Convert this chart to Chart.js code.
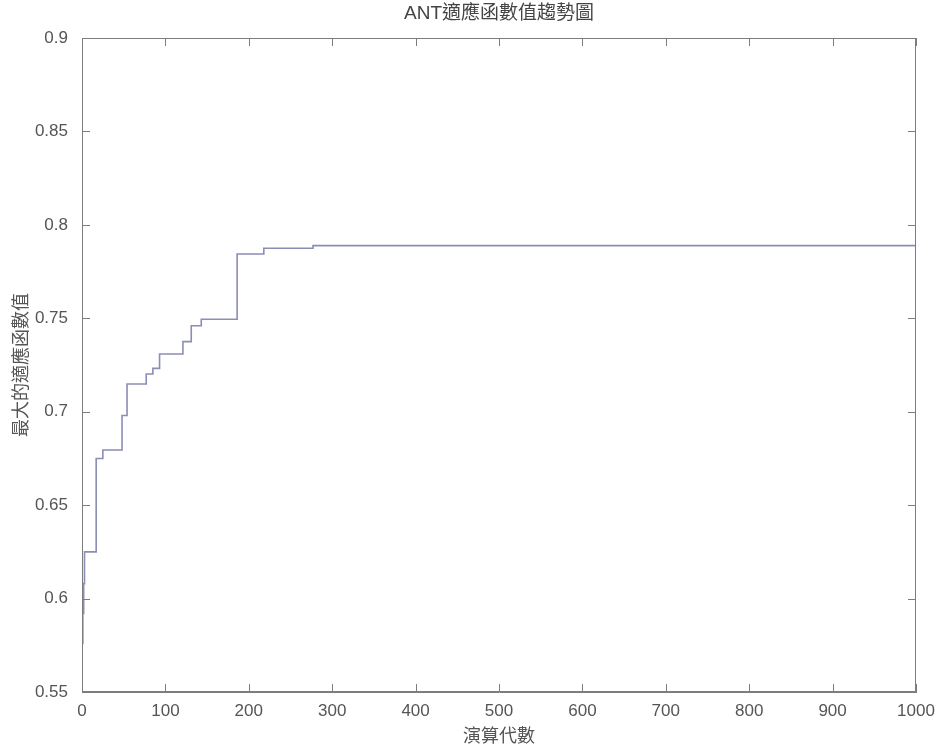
<!DOCTYPE html>
<html lang="zh-Hant">
<head>
  <meta charset="UTF-8">
  <title>ANT適應函數值趨勢圖</title>
  <style>
    html,body{margin:0;padding:0;background:#fff;}
    #wrap{width:941px;height:748px;}
  </style>
  <script src="https://cdn.jsdelivr.net/npm/chart.js"></script>
</head>
<body>
  <div id="wrap"><canvas id="fitChart" width="941" height="748"></canvas></div>

<script>
/* ===== Data ===== */
const generations=[0,1,2,3,17,25,48,54,77,85,93,121,131,143,186,218,277,1000];
const bestFitness=[0.576,0.592,0.608,0.625,0.675,0.6795,0.698,0.7148,0.7202,0.7232,0.7309,0.7375,0.746,0.7495,0.7844,0.7875,0.7889,0.7889];
const xTicks=[0,100,200,300,400,500,600,700,800,900,1000];
const yTicks=[0.55,0.6,0.65,0.7,0.75,0.8,0.85,0.9];

const FONT="'Liberation Sans','Noto Sans CJK TC',Arial,sans-serif";
const AXIS="#7d7d7d";

/* ===== box + inward ticks, like the original plot ===== */
const boxTicks={
  id:"boxTicks",
  afterDraw(chart){
    const {ctx,chartArea:a,scales:{x,y}}=chart;
    ctx.save();
    ctx.strokeStyle=AXIS;ctx.lineWidth=1;
    ctx.strokeRect(a.left+.5,a.top+.5,a.right-a.left-1,a.bottom-a.top-1);
    ctx.beginPath();
    xTicks.forEach(v=>{const px=Math.round(x.getPixelForValue(v))+.5;
      ctx.moveTo(px,a.bottom);ctx.lineTo(px,a.bottom-8);
      ctx.moveTo(px,a.top);ctx.lineTo(px,a.top+8);});
    yTicks.forEach(v=>{const py=Math.round(y.getPixelForValue(v))+.5;
      ctx.moveTo(a.left,py);ctx.lineTo(a.left+8,py);
      ctx.moveTo(a.right,py);ctx.lineTo(a.right-8,py);});
    ctx.stroke();
    ctx.restore();
  }
};

new Chart(document.getElementById("fitChart"),{
  type:"line",
  data:{datasets:[{
    data:generations.map((g,i)=>({x:g,y:bestFitness[i]})),
    stepped:"before",
    borderColor:"#8a8db4",borderWidth:1.6,pointRadius:0,fill:false
  }]},
  options:{
    responsive:false,animation:false,
    layout:{padding:{left:0,right:25,top:0,bottom:0}},
    plugins:{
      legend:{display:false},tooltip:{enabled:false},
      title:{display:true,fullSize:false,text:"ANT適應函數值趨勢圖",color:"#444",
        font:{family:FONT,size:19,weight:"normal"},padding:{top:2,bottom:13.2}}
    },
    scales:{
      x:{type:"linear",min:0,max:1000,
        afterBuildTicks:s=>{s.ticks=xTicks.map(v=>({value:v}));},
        afterFit:s=>{s.height=56;},
        grid:{display:false},border:{color:AXIS},
        ticks:{color:"#555",font:{family:FONT,size:17},padding:1,maxRotation:0,
          callback:v=>String(v)},
        title:{display:true,text:"演算代數",color:"#555",font:{family:FONT,size:18},padding:{top:9,bottom:0}}
      },
      y:{type:"linear",min:0.55,max:0.9,
        afterBuildTicks:s=>{s.ticks=yTicks.map(v=>({value:v}));},
        afterFit:s=>{s.width=82;},
        grid:{display:false},border:{color:AXIS},
        ticks:{color:"#555",font:{family:FONT,size:17},padding:6,
          callback:v=>String(+v.toFixed(2))},
        title:{display:true,text:"最大的適應函數值",color:"#555",font:{family:FONT,size:18},padding:{top:11,bottom:0}}
      }
    }
  },
  plugins:[boxTicks]
});
</script>
</body>
</html>
